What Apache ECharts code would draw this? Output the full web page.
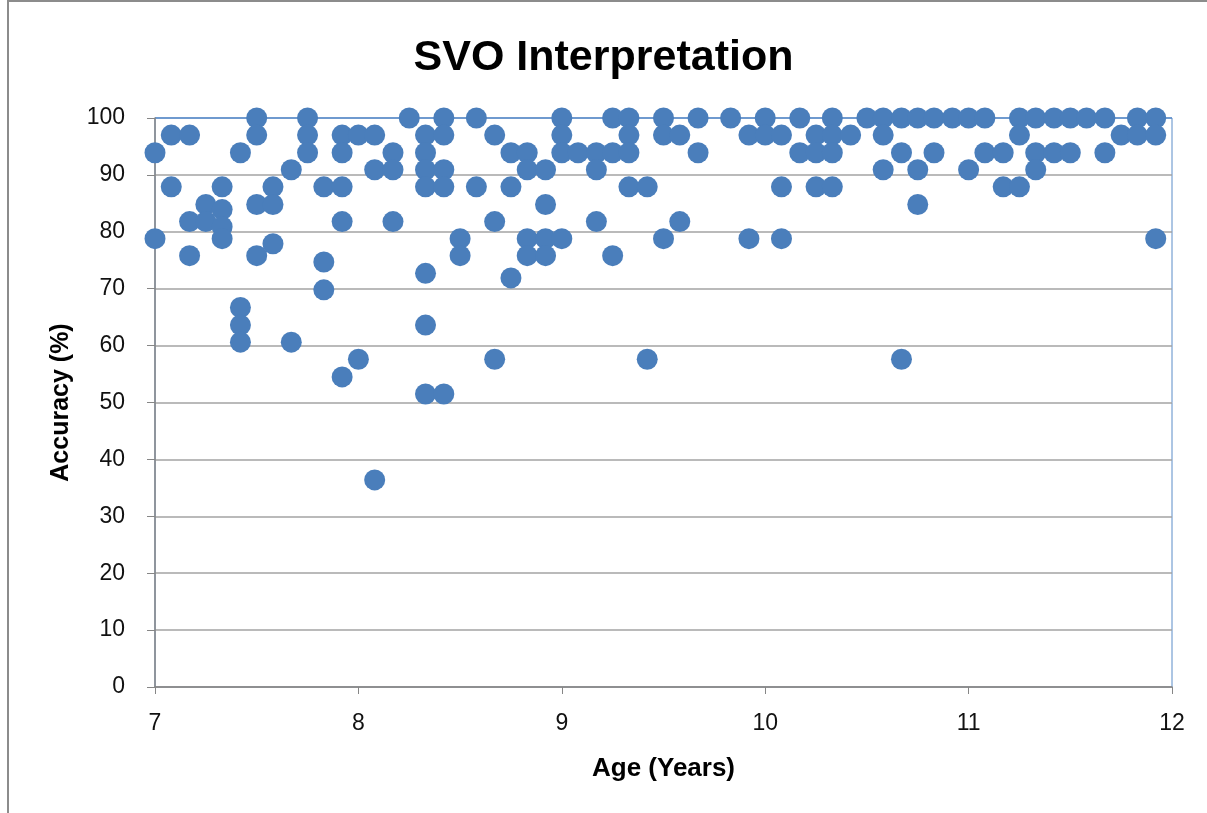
<!DOCTYPE html>
<html>
<head>
<meta charset="utf-8">
<title>SVO Interpretation</title>
<script src="https://cdn.jsdelivr.net/npm/echarts@6/dist/echarts.min.js"></script>
<style>
  html, body { margin: 0; padding: 0; background: #fff; }
  #chart { width: 1207px; height: 813px; }
</style>
</head>
<body>
<div id="chart"></div>
<script>
// one entry per child: age (years) and accuracy (%)
const ageYears = [
  7.00, 7.00,
  7.08, 7.08,
  7.17, 7.17, 7.17,
  7.25, 7.25,
  7.33, 7.33, 7.33, 7.33,
  7.42, 7.42, 7.42, 7.42,
  7.50, 7.50, 7.50, 7.50,
  7.58, 7.58, 7.58,
  7.67, 7.67,
  7.75, 7.75, 7.75,
  7.83, 7.83, 7.83,
  7.92, 7.92, 7.92, 7.92, 7.92,
  8.00, 8.00,
  8.08, 8.08, 8.08,
  8.17, 8.17, 8.17,
  8.25,
  8.33, 8.33, 8.33, 8.33, 8.33, 8.33, 8.33,
  8.42, 8.42, 8.42, 8.42, 8.42,
  8.50, 8.50,
  8.58, 8.58,
  8.67, 8.67, 8.67,
  8.75, 8.75, 8.75,
  8.83, 8.83, 8.83, 8.83,
  8.92, 8.92, 8.92, 8.92,
  9.00, 9.00, 9.00, 9.00,
  9.08,
  9.17, 9.17, 9.17,
  9.25, 9.25, 9.25,
  9.33, 9.33, 9.33, 9.33,
  9.42, 9.42,
  9.50, 9.50, 9.50,
  9.58, 9.58,
  9.67, 9.67,
  9.83,
  9.92, 9.92,
  10.00, 10.00,
  10.08, 10.08, 10.08,
  10.17, 10.17,
  10.25, 10.25, 10.25,
  10.33, 10.33, 10.33, 10.33,
  10.42,
  10.50,
  10.58, 10.58, 10.58,
  10.67, 10.67, 10.67,
  10.75, 10.75, 10.75,
  10.83, 10.83,
  10.92,
  11.00, 11.00,
  11.08, 11.08,
  11.17, 11.17,
  11.25, 11.25, 11.25,
  11.33, 11.33, 11.33,
  11.42, 11.42,
  11.50, 11.50,
  11.58,
  11.67, 11.67,
  11.75,
  11.83, 11.83,
  11.92, 11.92, 11.92
]

const accuracyPct = [
  93.9, 78.8,
  97.0, 87.9,
  97.0, 81.8, 75.8,
  84.8, 81.8,
  87.9, 83.9, 80.9, 78.8,
  93.9, 66.7, 63.6, 60.6,
  100, 97.0, 84.8, 75.8,
  87.9, 84.8, 77.9,
  90.9, 60.6,
  100, 97.0, 93.9,
  87.9, 74.7, 69.8,
  97.0, 93.9, 87.9, 81.8, 54.5,
  97.0, 57.6,
  97.0, 90.9, 36.4,
  93.9, 90.9, 81.8,
  100,
  97.0, 93.9, 90.9, 87.9, 72.7, 63.6, 51.5,
  100, 97.0, 90.9, 87.9, 51.5,
  78.8, 75.8,
  100, 87.9,
  97.0, 81.8, 57.6,
  93.9, 87.9, 71.9,
  93.9, 90.9, 78.8, 75.8,
  90.9, 84.8, 78.8, 75.8,
  100, 97.0, 93.9, 78.8,
  93.9,
  93.9, 90.9, 81.8,
  100, 93.9, 75.8,
  100, 97.0, 93.9, 87.9,
  87.9, 57.6,
  100, 97.0, 78.8,
  97.0, 81.8,
  100, 93.9,
  100,
  97.0, 78.8,
  100, 97.0,
  97.0, 87.9, 78.8,
  100, 93.9,
  97.0, 93.9, 87.9,
  100, 97.0, 93.9, 87.9,
  97.0,
  100,
  100, 97.0, 90.9,
  100, 93.9, 57.6,
  100, 90.9, 84.8,
  100, 93.9,
  100,
  100, 90.9,
  100, 93.9,
  93.9, 87.9,
  100, 97.0, 87.9,
  100, 93.9, 90.9,
  100, 93.9,
  100, 93.9,
  100,
  100, 93.9,
  97.0,
  100, 97.0,
  100, 97.0, 78.8
]

const chartTitle = 'SVO Interpretation'
const xAxisTitle = 'Age (Years)'
const yAxisTitle = 'Accuracy (%)'

const FONT = '"Liberation Sans", Arial, sans-serif'
const gridGray = '#a3a3a3'
const borderBlue = '#5b8cc8'

const points = ageYears.map((age, i) => [age, accuracyPct[i]])

// last split line (100) is the blue plot-area border in the original
const yGridColors = Array.from({ length: 11 }, (_, i) => (i === 10 ? borderBlue : gridGray))

const chart = echarts.init(document.getElementById('chart'))
chart.setOption({
  animation: false,
  title: {
    text: chartTitle,
    left: 'center',
    top: 32,
    textStyle: { fontFamily: FONT, fontSize: 43, fontWeight: 'bold', color: '#000' }
  },
  graphic: [
    { type: 'line', shape: { x1: 8, y1: 0, x2: 8, y2: 813 }, style: { stroke: '#8c8c8c', lineWidth: 2 } },
    { type: 'line', shape: { x1: 8, y1: 1, x2: 1207, y2: 1 }, style: { stroke: '#8c8c8c', lineWidth: 2 } }
  ],
  grid: {
    left: 155,
    right: 35,
    top: 118,
    bottom: 126,
    show: true,
    borderColor: borderBlue,
    borderWidth: 1,
    containLabel: false
  },
  xAxis: {
    type: 'value',
    min: 7,
    max: 12,
    interval: 1,
    name: xAxisTitle,
    nameLocation: 'middle',
    nameGap: 69,
    nameTextStyle: { fontFamily: FONT, fontSize: 26, fontWeight: 'bold', color: '#000' },
    axisLine: { show: true, onZero: false, lineStyle: { color: '#868686', width: 1.5 } },
    axisTick: { show: true, length: 7, lineStyle: { color: '#868686' } },
    axisLabel: { fontFamily: FONT, fontSize: 23, color: '#111', margin: 25 },
    splitLine: { show: false }
  },
  yAxis: {
    type: 'value',
    min: 0,
    max: 100,
    interval: 10,
    name: yAxisTitle,
    nameLocation: 'middle',
    nameGap: 81,
    nameTextStyle: { fontFamily: FONT, fontSize: 25, fontWeight: 'bold', color: '#000' },
    axisLine: { show: true, onZero: false, lineStyle: { color: '#868686', width: 1.5 } },
    axisTick: { show: true, length: 8, lineStyle: { color: '#868686' } },
    axisLabel: { fontFamily: FONT, fontSize: 23, color: '#111', margin: 30 },
    splitLine: { show: true, lineStyle: { color: yGridColors, width: 1.5 } }
  },
  series: [
    {
      name: chartTitle,
      type: 'scatter',
      data: points,
      symbol: 'circle',
      symbolSize: 21,
      itemStyle: { color: '#4a7ebb', opacity: 1 }
    }
  ]
})
</script>
</body>
</html>
